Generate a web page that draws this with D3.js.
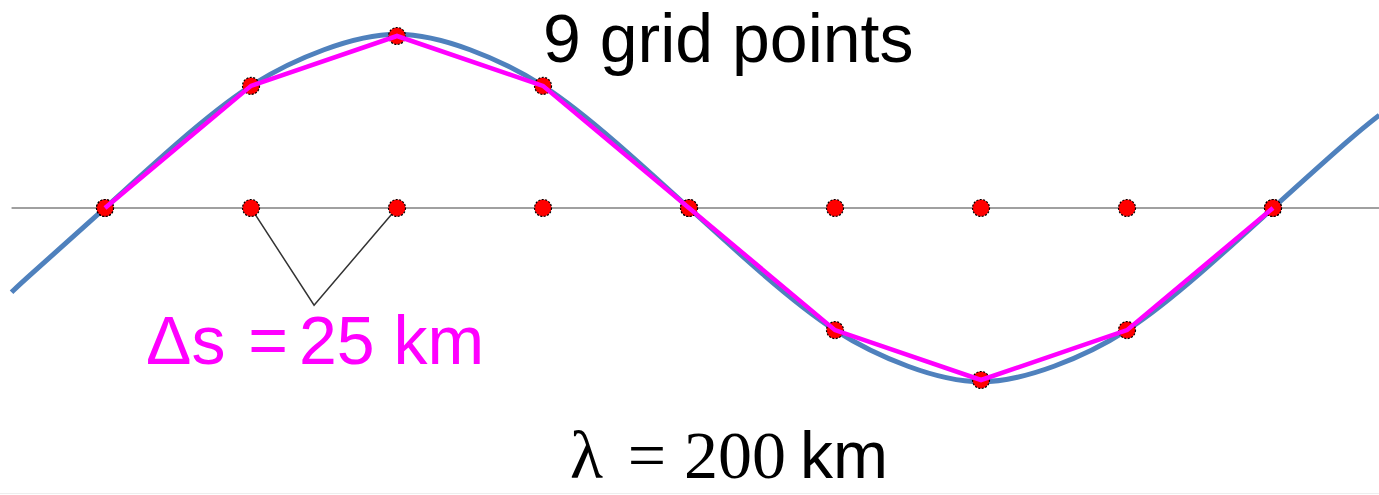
<!DOCTYPE html>
<html>
<head>
<meta charset="utf-8">
<script src="https://cdn.jsdelivr.net/npm/d3@7"></script>
<style>
  html, body { margin:0; padding:0; background:#fff; }
  svg { display:block; }
</style>
</head>
<body>
<svg id="chart" width="1379" height="495"></svg>
<script>
// grid points along the wave (distance in km, normalised height)
const gridKm = [0, 25, 50, 75, 100, 125, 150, 175, 200];
const gridVal = [0, 0.71, 1, 0.71, 0, -0.71, -1, -0.71, 0];

const waveKm = [-16, -12.5, 0, 12.5, 25, 37.5, 50, 62.5, 75, 87.5, 100, 112.5, 125, 137.5, 150, 162.5, 175, 187.5, 200, 212.5, 218.2];
const waveVal = [-0.49, -0.38, 0, 0.38, 0.71, 0.92, 1.01, 0.92, 0.71, 0.38, 0, -0.38, -0.71, -0.92, -1.01, -0.92, -0.71, -0.38, 0, 0.38, 0.54];

// apex of the little "V" that marks one grid step
const markKm = [25, 35.8, 50];
const markVal = [0, -0.565, 0];

const svg = d3.select('#chart');
const x = d3.scaleLinear().domain([0, 200]).range([105, 1273]);
const y = d3.scaleLinear().domain([-1, 1]).range([380, 36]);

// baseline
svg.append('line')
  .attr('x1', x(-16)).attr('x2', 1379)
  .attr('y1', y(0)).attr('y2', y(0))
  .attr('stroke', '#a0a0a0').attr('stroke-width', 2);

// true wave
const wave = waveKm.map((k,i)=>[k, waveVal[i]]);
svg.append('path').datum(wave)
  .attr('fill','none').attr('stroke','#4f81bd').attr('stroke-width',5)
  .attr('d', d3.line().x(d=>x(d[0])).y(d=>y(d[1])).curve(d3.curveNatural));

// V marker
const mark = markKm.map((k,i)=>[k, markVal[i]]);
svg.append('path').datum(mark)
  .attr('fill','none').attr('stroke','#333').attr('stroke-width',1.5)
  .attr('d', d3.line().x(d=>x(d[0])).y(d=>y(d[1])));

// dots on the baseline
svg.append('g').selectAll('circle').data(gridKm).join('circle')
  .attr('cx', d=>x(d)).attr('cy', y(0)).attr('r', 8.5)
  .attr('fill','#ff0000').attr('stroke','#000').attr('stroke-width',1.2).attr('stroke-dasharray','2,1.5');

// dots on the wave
const pts = gridKm.map((k,i)=>[k, gridVal[i]]);
svg.append('g').selectAll('circle').data(pts).join('circle')
  .attr('cx', d=>x(d[0])).attr('cy', d=>y(d[1])).attr('r', 8.5)
  .attr('fill','#ff0000').attr('stroke','#000').attr('stroke-width',1.2).attr('stroke-dasharray','2,1.5');

// piecewise linear representation
svg.append('path').datum(pts)
  .attr('fill','none').attr('stroke','#ff00ff').attr('stroke-width',4.5)
  .attr('d', d3.line().x(d=>x(d[0])).y(d=>y(d[1])));

// labels
const sans = "'Liberation Sans', Arial, sans-serif";
const serif = "'Liberation Serif', 'Times New Roman', serif";

svg.append('text').attr('x', 543).attr('y', 62)
  .attr('font-family', sans).attr('font-size', 68).attr('fill', '#000')
  .text('9 grid points');

const ds = svg.append('g').attr('fill','#ff00ff').attr('font-family', sans).attr('font-size', 68);
ds.append('text').attr('x', 146).attr('y', 364).text('\u0394s');
ds.append('text').attr('x', 268).attr('y', 364).attr('text-anchor','middle').text('=');
ds.append('text').attr('x', 299).attr('y', 364).text('25 km');

const lam = svg.append('g').attr('fill','#000');
lam.append('text').attr('x', 570).attr('y', 478).attr('font-family', serif).attr('font-size', 68).text('\u03bb');
lam.append('text').attr('x', 647).attr('y', 478).attr('text-anchor','middle').attr('font-family', serif).attr('font-size', 68).text('=');
lam.append('text').attr('x', 684).attr('y', 478).attr('font-family', serif).attr('font-size', 68).text('200');
lam.append('text').attr('x', 800).attr('y', 478).attr('font-family', sans).attr('font-size', 66).text('km');

// faint frame edge at the bottom
svg.append('line').attr('x1',0).attr('x2',1379).attr('y1',493.5).attr('y2',493.5)
  .attr('stroke','#eeeeee').attr('stroke-width',1);
</script>
</body>
</html>
